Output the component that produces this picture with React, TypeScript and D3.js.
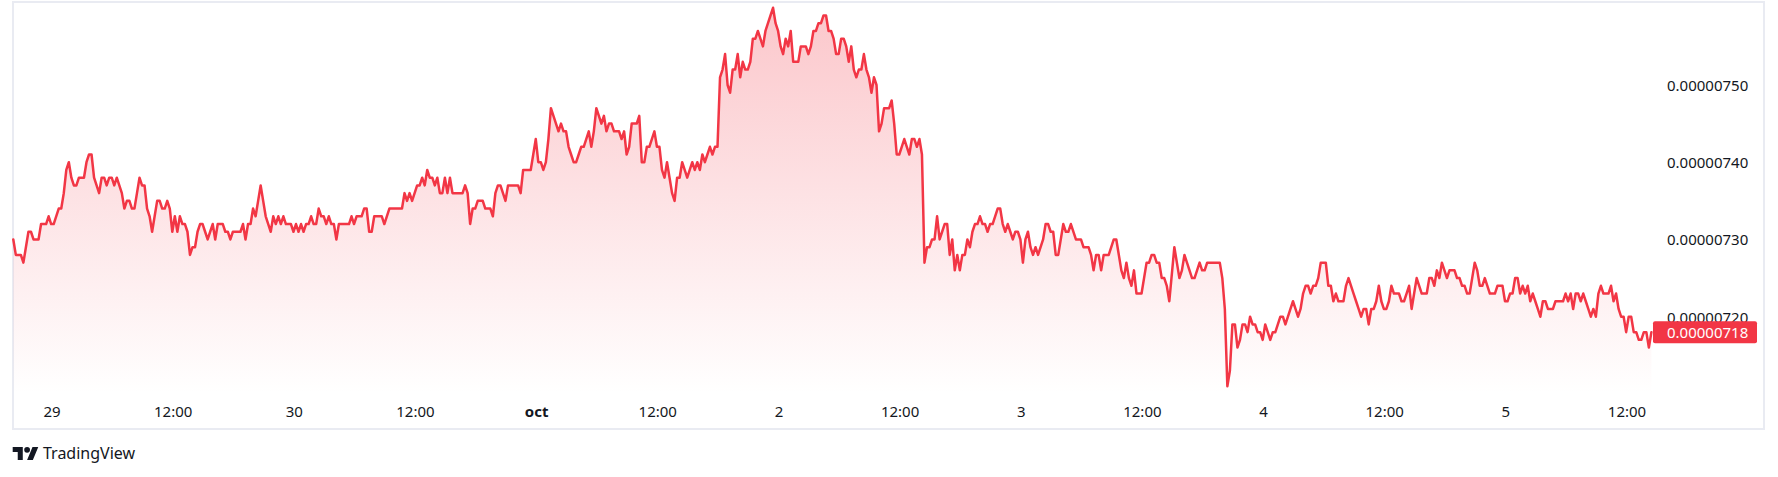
import React from 'react';
import * as d3 from 'd3';

// ---------- DATA ----------
// 15-minute bars starting 28 Sep 2024 20:10 (UTC); prices in units of 0.00000001
const START = Date.UTC(2024, 8, 28, 20, 10);
const BAR_MINUTES = 15;
const PRICE_UNIT = 1e-8;

// [bar index, price] turning points of the line
const series: [number, number][] = [
  [0,730],[1,728],[3,728],[4,727],[6,731],[7,731],[8,730],[10,730],[11,732],[13,732],[14,733],[15,732],[16,732],[18,734],[19,734],[20,736],[21,739],[22,740],[23,738],[24,737],[25,737],[26,738],[28,738],[29,740],[30,741],[31,741],[32,738],[33,737],[34,736],[35,738],[36,738],[37,737],[38,738],[39,738],[40,737],[41,738],[42,737],[43,736],[44,734],[45,735],[46,735],[47,734],[48,734],[49,736],[50,738],[51,737],[52,737],[53,734],[54,733],[55,731],[56,733],[57,735],[58,735],[59,734],[60,734],[61,735],[62,734],[63,731],[64,733],[65,731],[66,733],[67,732],[68,732],[69,731],[70,728],[71,729],[72,729],[73,731],[74,732],[75,732],[76,731],[77,730],[78,731],[79,732],[80,730],[81,732],[83,732],[84,731],[85,731],[86,730],[87,731],[90,731],[91,732],[92,730],[93,732],[94,732],[95,734],[96,733],[97,735],[98,737],[99,735],[100,733],[101,732],[102,731],[103,733],[104,732],[105,733],[106,732],[107,733],[108,732],[110,732],[111,731],[112,732],[113,731],[114,732],[115,731],[116,732],[117,732],[118,733],[119,732],[120,732],[121,734],[122,733],[123,733],[124,732],[125,733],[126,732],[127,732],[128,730],[129,732],[133,732],[134,733],[135,732],[136,733],[138,733],[139,734],[140,734],[141,731],[142,731],[143,733],[146,733],[147,732],[149,734],[154,734],[155,736],[156,735],[157,736],[158,735],[160,737],[161,737],
  [162,738],[163,737],[164,739],[165,738],[166,738],[167,737],[168,738],[169,736],[170,736],[171,738],[172,736],[173,738],[174,736],[178,736],[179,737],[180,736],[181,732],[182,734],[183,734],[184,735],[186,735],[187,734],[189,734],[190,733],[191,736],[192,737],[193,737],[195,735],[196,737],[200,737],[201,736],[202,739],[205,739],[206,741],[207,743],[208,740],[209,740],[210,739],[211,740],[212,743],[213,747],[214,746],[215,745],[216,744],[217,745],[218,744],[219,744],[220,742],[221,741],[222,740],[223,740],[224,741],[225,742],[226,742],[227,743],[228,744],[229,742],[230,744],[231,747],[232,746],[233,745],[234,746],[235,744],[236,745],[237,745],[238,744],[240,744],[241,743],[242,744],[243,741],[244,742],[245,745],[247,745],[248,746],[249,740],[250,740],[251,742],[252,742],[253,743],[254,744],[255,742],[256,742],[257,739],[258,738],[259,740],[260,738],[261,736],[262,735],[263,738],[264,738],[265,740],[266,739],[267,738],[268,739],[269,740],[270,739],[271,740],[272,739],[273,741],[274,740],[275,741],[276,742],[277,741],[278,742],[279,742],[280,751],[281,752],[282,754],[283,750],[284,749],[285,752],[286,752],[287,754],[288,751],[289,753],[290,752],[291,752],[292,753],[293,756],[294,756],[295,757],[296,756],[297,755],[298,757],[299,758],[300,759],[301,760],[302,758],[303,757],[304,755],[305,754],[306,756],[307,755],[308,757],[309,753],[311,753],[312,755],[314,755],[315,754],[316,755],[317,757],[318,757],[319,758],[320,758],[321,759],[322,759],[323,757],
  [324,757],[325,756],[326,754],[327,754],[328,756],[329,756],[330,755],[331,753],[332,755],[333,752],[334,751],[335,752],[336,752],[337,754],[338,752],[339,751],[340,749],[341,751],[342,750],[343,744],[344,745],[345,747],[347,747],[348,748],[349,745],[350,741],[351,741],[352,742],[353,743],[354,742],[355,741],[356,743],[357,743],[358,742],[359,743],[360,741],[361,727],[362,729],[363,729],[364,730],[365,730],[366,733],[367,730],[368,731],[369,732],[370,732],[371,728],[372,730],[373,726],[374,728],[375,726],[376,728],[377,728],[378,730],[379,729],[380,731],[381,732],[382,732],[383,733],[384,732],[385,732],[386,731],[387,732],[388,732],[390,734],[391,734],[392,732],[393,731],[394,732],[395,731],[396,730],[397,731],[398,731],[399,730],[400,727],[401,730],[402,731],[403,729],[404,728],[405,729],[406,728],[408,730],[409,732],[410,732],[411,731],[412,731],[413,728],[414,728],[416,732],[417,731],[418,731],[419,732],[421,730],[423,730],[424,729],[426,729],[427,728],[428,726],[429,728],[430,728],[431,726],[432,728],[434,728],[436,730],[437,730],[439,726],[440,725],[441,727],[442,725],[443,724],[444,726],[445,723],[447,723],[449,727],[450,727],[451,728],[452,728],[453,727],[454,727],[455,725],[456,725],[457,724],[458,722],[460,729],[461,727],[462,725],[463,726],[464,728],[465,727],[466,726],[467,725],[468,725],[469,726],[470,727],[471,726],[472,726],[473,727],[478,727],[479,725],[480,721],[481,711],[482,713],[483,719],[484,719],[485,716],
  [486,717],[487,719],[488,719],[489,718],[490,720],[491,719],[492,719],[493,718],[494,718],[495,717],[496,719],[497,718],[498,717],[499,718],[500,718],[501,719],[502,720],[503,720],[504,719],[505,720],[506,721],[507,722],[508,721],[509,720],[510,721],[511,723],[512,724],[513,724],[514,723],[515,724],[516,724],[517,725],[518,727],[520,727],[521,724],[522,724],[523,722],[524,723],[525,722],[527,722],[528,724],[529,725],[530,724],[531,723],[532,722],[533,721],[534,720],[535,721],[536,721],[537,719],[538,721],[539,721],[540,722],[541,724],[542,722],[543,721],[544,721],[545,722],[546,724],[547,723],[549,723],[550,722],[551,722],[552,723],[553,724],[554,721],[555,723],[556,725],[557,724],[558,723],[560,723],[561,725],[562,725],[563,724],[564,726],[565,725],[566,727],[567,726],[568,725],[569,726],[571,726],[572,725],[573,725],[574,724],[575,724],[576,723],[577,723],[578,725],[579,727],[580,726],[581,724],[582,724],[583,725],[584,724],[585,723],[587,723],[588,724],[590,724],[591,722],[592,722],[593,723],[594,723],[595,725],[596,725],[597,723],[598,724],[599,723],[600,724],[601,722],[602,723],[603,722],[604,721],[605,720],[606,722],[607,722],[608,721],[610,721],[611,722],[614,722],[615,723],[616,722],[617,723],[618,721],[619,723],[620,723],[621,722],[622,723],[623,722],[624,721],[625,720],[626,721],[627,720],[628,723],[629,724],[630,723],[632,723],[633,724],[634,722],[635,723],[636,721],[637,720],[638,720],[639,718],[640,720],[641,720],[642,718],[643,718],[644,717],[645,717],[646,718],[647,718],[648,716],[649,718],
];

const priceTicks = [720, 730, 740, 750];
const lastPrice = 718;

const timeTicks: { t: number; label: string; bold: boolean }[] = [
  { t: Date.UTC(2024, 8, 29, 0), label: '29', bold: false },
  { t: Date.UTC(2024, 8, 29, 12), label: '12:00', bold: false },
  { t: Date.UTC(2024, 8, 30, 0), label: '30', bold: false },
  { t: Date.UTC(2024, 8, 30, 12), label: '12:00', bold: false },
  { t: Date.UTC(2024, 9, 1, 0), label: 'oct', bold: true },
  { t: Date.UTC(2024, 9, 1, 12), label: '12:00', bold: false },
  { t: Date.UTC(2024, 9, 2, 0), label: '2', bold: false },
  { t: Date.UTC(2024, 9, 2, 12), label: '12:00', bold: false },
  { t: Date.UTC(2024, 9, 3, 0), label: '3', bold: false },
  { t: Date.UTC(2024, 9, 3, 12), label: '12:00', bold: false },
  { t: Date.UTC(2024, 9, 4, 0), label: '4', bold: false },
  { t: Date.UTC(2024, 9, 4, 12), label: '12:00', bold: false },
  { t: Date.UTC(2024, 9, 5, 0), label: '5', bold: false },
  { t: Date.UTC(2024, 9, 5, 12), label: '12:00', bold: false },
];

// ---------- LAYOUT / STYLE ----------
const W = 1778;
const H = 477;
const RED = '#f23645';
const TEXT = '#131722';
const FONT = '"Noto Sans", "Open Sans", sans-serif';
const PANE_BOTTOM = 394;
const PRICE_AXIS_X = 1653;

const barTime = (bar: number) => new Date(START + bar * BAR_MINUTES * 60000);

export default function App() {
  const x = d3
    .scaleUtc()
    .domain([new Date(timeTicks[0].t), new Date(timeTicks[timeTicks.length - 1].t)])
    .range([52, 1627]);
  const y = d3.scaleLinear().domain([720, 750]).range([316.7, 85]);

  const line = d3
    .line<[number, number]>()
    .x((d) => x(barTime(d[0])))
    .y((d) => y(d[1]));
  const area = d3
    .area<[number, number]>()
    .x((d) => x(barTime(d[0])))
    .y0(PANE_BOTTOM)
    .y1((d) => y(d[1]));

  const maxPrice = d3.max(series, (d) => d[1]) as number;
  const fmt = (v: number) => (v * PRICE_UNIT).toFixed(8);

  return (
    <div style={{ position: 'absolute', left: 0, top: 0, background: '#fff' }}>
      <svg width={W} height={H} style={{ display: 'block' }}>
        <defs>
          <linearGradient
            id="areaFill"
            gradientUnits="userSpaceOnUse"
            x1={0}
            y1={y(maxPrice)}
            x2={0}
            y2={PANE_BOTTOM}
          >
            <stop offset="0%" stopColor={RED} stopOpacity={0.28} />
            <stop offset="100%" stopColor={RED} stopOpacity={0.0} />
          </linearGradient>
        </defs>
        <rect x={0} y={0} width={W} height={H} fill="#fff" />
        <rect x={13} y={2} width={1751} height={427} fill="none" stroke="#e9ebf2" strokeWidth={2} />

        <path d={area(series) || ''} fill="url(#areaFill)" />
        <path
          d={line(series) || ''}
          fill="none"
          stroke={RED}
          strokeWidth={2.5}
          strokeLinejoin="round"
          strokeLinecap="round"
        />

        {/* price axis */}
        {priceTicks.map((p) => (
          <text
            key={p}
            x={PRICE_AXIS_X + 14}
            y={y(p)}
            dominantBaseline="central"
            fontFamily={FONT}
            fontSize={15}
            fill={TEXT}
          >
            {fmt(p)}
          </text>
        ))}
        <rect x={PRICE_AXIS_X} y={y(lastPrice) - 11} width={104} height={22} rx={2} fill={RED} />
        <text
          x={PRICE_AXIS_X + 14}
          y={y(lastPrice)}
          dominantBaseline="central"
          fontFamily={FONT}
          fontSize={15}
          fill="#fff"
        >
          {fmt(lastPrice)}
        </text>

        {/* time axis */}
        {timeTicks.map((tk, i) => (
          <text
            key={i}
            x={x(new Date(tk.t))}
            y={411}
            textAnchor="middle"
            dominantBaseline="central"
            fontFamily={FONT}
            fontSize={15}
            fontWeight={tk.bold ? 700 : 400}
            fill={TEXT}
          >
            {tk.label}
          </text>
        ))}

        {/* TradingView attribution */}
        <g transform="translate(12.7,444.1) scale(0.72)" fill={TEXT}>
          <path d="M14 22H7V11H0V4h14v18zM28 22h-8l7.5-18h8L28 22z" />
          <circle cx={20} cy={8} r={4} />
        </g>
        <text x={43} y={453} dominantBaseline="central" fontFamily={FONT} fontSize={16} fill={TEXT}>
          TradingView
        </text>
      </svg>
    </div>
  );
}
